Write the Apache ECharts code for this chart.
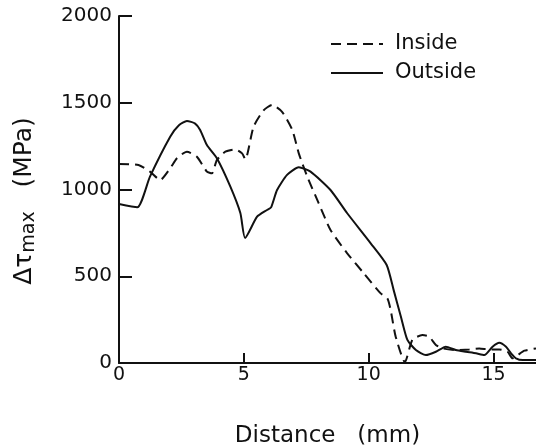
<!DOCTYPE html>
<html>
<head>
<meta charset="utf-8">
<script src="https://cdn.jsdelivr.net/npm/echarts@6/dist/echarts.min.js"></script>
<style>html,body{margin:0;padding:0;background:#fff;}#c{width:536px;height:448px;}</style>
</head>
<body>
<div id="c"></div>
<script>
var insideX = [0, 0.78, 1.24, 1.65, 2.05, 2.32, 2.72, 3.12, 3.52, 3.72, 3.92, 4.26, 4.66, 4.93, 5.06, 5.39, 5.8, 6.13, 6.53, 6.94, 7.2, 7.54, 8.0, 8.47, 9.14, 9.81, 10.48, 10.75, 10.88, 11.08, 11.45, 11.75, 12.15, 12.42, 12.69, 12.96, 13.49, 14.03, 14.43, 14.83, 15.23, 15.56, 15.76, 15.97, 16.24, 16.7];
var insideY = [1147, 1141, 1103, 1055, 1122, 1180, 1218, 1189, 1103, 1093, 1170, 1218, 1231, 1208, 1174, 1362, 1458, 1487, 1448, 1343, 1208, 1074, 920, 767, 632, 516, 401, 372, 305, 152, 5, 133, 161, 152, 104, 84, 75, 78, 84, 78, 78, 65, 27, 46, 71, 84];
var outsideX = [0, 0.73, 1.24, 2.05, 2.4, 2.72, 3.05, 3.25, 3.52, 3.92, 4.46, 4.86, 5.05, 5.53, 5.93, 6.09, 6.33, 6.73, 7.2, 7.67, 8.47, 9.14, 10.08, 10.72, 11.0, 11.29, 11.55, 11.89, 12.29, 12.69, 13.09, 13.49, 13.9, 14.3, 14.63, 14.96, 15.23, 15.5, 15.7, 15.9, 16.17, 16.7];
var outsideY = [916, 897, 1074, 1304, 1370, 1395, 1380, 1343, 1256, 1180, 1016, 864, 720, 843, 882, 897, 997, 1084, 1128, 1103, 997, 863, 690, 565, 420, 267, 133, 75, 46, 65, 94, 75, 65, 56, 46, 94, 117, 94, 56, 27, 17, 17];
var seriesNames = ['Inside', 'Outside'];
var xTicks = [0, 5, 10, 15];
var yTicks = [0, 500, 1000, 1500, 2000];

function pairs(xs, ys) { return xs.map(function (x, i) { return [x, ys[i]]; }); }

var FONT = 'DejaVu Sans';
var chart = echarts.init(document.getElementById('c'));
chart.setOption({
  animation: false,
  backgroundColor: '#fff',
  grid: { left: 119, right: 0, top: 16, bottom: 85, containLabel: false, outerBoundsMode: 'none' },
  legend: {
    orient: 'vertical', left: 330, top: 33, padding: 0,
    itemWidth: 52, itemHeight: 14, itemGap: 7,
    data: seriesNames,
    itemStyle: { opacity: 0 },
    textStyle: { fontFamily: FONT, fontSize: 21, color: '#111', lineHeight: 22, padding: [0, 0, 0, 7] }
  },
  xAxis: {
    type: 'value', min: 0, max: 16.7, interval: 5,
    name: 'Distance   (mm)', nameLocation: 'middle', nameGap: 62,
    nameTextStyle: { fontFamily: FONT, fontSize: 23, color: '#111' },
    axisLine: { lineStyle: { color: '#111', width: 2 } },
    axisTick: { inside: true, length: 10, lineStyle: { color: '#111', width: 2 } },
    axisLabel: { fontFamily: FONT, fontSize: 19, color: '#111', margin: 3, showMaxLabel: false,
      formatter: function (v) { return xTicks.indexOf(v) >= 0 ? String(v) : ''; } },
    splitLine: { show: false }
  },
  yAxis: {
    type: 'value', min: 0, max: 2000, interval: 500,
    axisLine: { lineStyle: { color: '#111', width: 2 } },
    axisTick: { inside: true, length: 13, lineStyle: { color: '#111', width: 2 } },
    axisLabel: { fontFamily: FONT, fontSize: 20, color: '#111', margin: 7,
      formatter: function (v) { return yTicks.indexOf(v) >= 0 ? String(v) : ''; } },
    splitLine: { show: false }
  },
  graphic: [{
    type: 'text', x: 24, y: 201, rotation: Math.PI / 2,
    style: {
      text: '{a|Δτ}{s|max}{a|   (MPa)}',
      align: 'center', verticalAlign: 'middle',
      rich: {
        a: { fontFamily: FONT, fontSize: 25, fill: '#111', lineHeight: 30, verticalAlign: 'middle' },
        s: { fontFamily: FONT, fontSize: 19, fill: '#111', lineHeight: 30, verticalAlign: 'bottom', padding: [12, 0, 0, 0] }
      }
    }
  }],
  series: [{
    name: 'Inside', type: 'line', data: pairs(insideX, insideY),
    symbol: 'none', smooth: 0.2,
    itemStyle: { color: '#111' },
    lineStyle: { color: '#111', width: 2, type: [10, 6] }
  }, {
    name: 'Outside', type: 'line', data: pairs(outsideX, outsideY),
    symbol: 'none', smooth: 0.2,
    itemStyle: { color: '#111' },
    lineStyle: { color: '#111', width: 2 }
  }]
});
</script>
</body>
</html>
